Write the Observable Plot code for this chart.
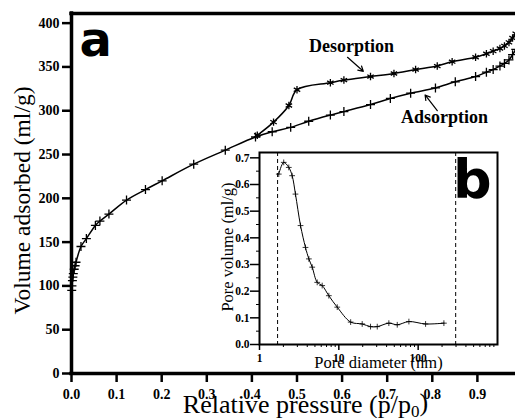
<!DOCTYPE html>
<html><head><meta charset="utf-8">
<script src="https://cdn.jsdelivr.net/npm/d3@7"></script>
<script src="https://cdn.jsdelivr.net/npm/@observablehq/plot@0.6"></script>
<style>
html,body{margin:0;padding:0;background:#fff;}
#wrap{position:relative;width:515px;height:418px;overflow:hidden;background:#fff;}
#inset{position:absolute;left:200px;top:140px;}
</style></head><body><div id="wrap"><div id="main"></div><div id="inset"></div></div>
<script>
// Adsorption branch (relative pressure, volume ml/g)
const adsP = [0.0005, 0.001, 0.002, 0.003, 0.004, 0.006, 0.008, 0.010, 0.021, 0.033, 0.053, 0.063, 0.083, 0.122, 0.164, 0.201, 0.271, 0.341, 0.408, 0.445, 0.486, 0.526, 0.574, 0.604, 0.663, 0.707, 0.752, 0.807, 0.851, 0.896, 0.920, 0.935, 0.950, 0.960, 0.970, 0.978, 0.985];
const adsV = [95, 100, 106, 110, 114, 119, 123, 127, 145, 154, 169, 174, 182, 198, 210, 220, 239, 255, 270, 276, 281, 288, 295, 299, 307, 314, 320, 326, 333, 339, 344, 347, 351, 354, 358, 364, 370];
// Desorption branch
const desP = [0.412, 0.448, 0.482, 0.500, 0.574, 0.604, 0.663, 0.715, 0.763, 0.811, 0.844, 0.896, 0.920, 0.935, 0.950, 0.960, 0.970, 0.978, 0.985];
const desV = [272, 287, 306, 324, 332, 335, 339, 342.5, 347, 351, 356, 361, 365, 368, 371, 374, 378, 383, 388];
// Inset: pore size distribution
const poreD = [1.75, 2.02, 2.34, 2.58, 2.84, 3.29, 3.80, 4.19, 4.62, 5.34, 6.17, 7.48, 9.55, 14.1, 19.7, 25.1, 30.5, 42.7, 54.5, 76.4, 124, 211];
const poreV = [0.639, 0.683, 0.664, 0.633, 0.564, 0.446, 0.364, 0.321, 0.290, 0.233, 0.221, 0.183, 0.140, 0.084, 0.077, 0.067, 0.067, 0.080, 0.074, 0.086, 0.077, 0.080];
const dashedD = [1.69, 297];
// Ticks
const xTicks = [0, 0.1, 0.2, 0.3, 0.4, 0.5, 0.6, 0.7, 0.8, 0.9];
const yTicks = [0, 50, 100, 150, 200, 250, 300, 350, 400];
const insetXTicks = [1, 10, 100];
const insetXMinor = [2,3,4,5,6,7,8,9,20,30,40,50,60,70,80,90,200,300,400,500,600,700,800,900];
const insetYTicks = [0, 0.1, 0.2, 0.3, 0.4, 0.5, 0.6, 0.7];
const insetYMinor = [0.05, 0.15, 0.25, 0.35, 0.45, 0.55, 0.65];
// Annotations (data coordinates)
const annoText = [{x: 0.621, y: 367, t: "Desorption"}, {x: 0.827, y: 286.5, t: "Adsorption"}];
const annoArrow = [{x1: 0.612, y1: 361, x2: 0.647, y2: 345}, {x1: 0.811, y1: 300, x2: 0.784, y2: 318}];
const panelA = [{x: 0.018, y: 363, t: "a"}];
const panelB = [{x: 275, y: 0.551, t: "b"}];

const ads = adsP.map((p, i) => ({p, v: adsV[i]}));
const des = desP.map((p, i) => ({p, v: desV[i]}));
const pore = poreD.map((d, i) => ({d, v: poreV[i]}));
const serif = "'Liberation Serif', 'Times New Roman', serif";

const main = Plot.plot({
  width: 515, height: 418,
  marginLeft: 71, marginRight: 0, marginTop: 13, marginBottom: 45,
  style: {fontFamily: serif, fontSize: "14px", fontWeight: "bold", color: "#000", background: "#fff"},
  x: {domain: [0, 0.9845]},
  y: {domain: [0, 411]},
  marks: [
    Plot.axisX({ticks: xTicks, tickFormat: d3.format(".1f"), tickSize: 9, tickPadding: 7, strokeWidth: 2.5, label: null}),
    Plot.axisY({ticks: yTicks, tickSize: 9, tickPadding: 3, strokeWidth: 2.5, label: null}),
    Plot.ruleY([0], {strokeWidth: 3.5, strokeLinecap: "square"}),
    Plot.ruleX([0], {strokeWidth: 3.5, strokeLinecap: "square"}),
    Plot.ruleY([411], {strokeWidth: 3.5, strokeLinecap: "square"}),
    Plot.line(ads, {x: "p", y: "v", curve: "catmull-rom", strokeWidth: 1.5}),
    Plot.dot(ads, {x: "p", y: "v", symbol: "plus", r: 3, strokeWidth: 1.3}),
    Plot.line(des, {x: "p", y: "v", curve: "catmull-rom", strokeWidth: 1.5}),
    Plot.dot(des, {x: "p", y: "v", symbol: "asterisk", r: 3.5, strokeWidth: 1.3}),
    Plot.arrow(annoArrow, {x1: "x1", y1: "y1", x2: "x2", y2: "y2", headLength: 7, strokeWidth: 1.2}),
    Plot.text(annoText, {x: "x", y: "y", text: "t", fontSize: 18, fontWeight: "bold", lineAnchor: "bottom", textAnchor: "middle"}),
    Plot.text(panelA, {x: "x", y: "y", text: "t", fontSize: 48, fontWeight: "bold", fontFamily: "'DejaVu Sans', sans-serif", lineAnchor: "bottom", textAnchor: "start"}),
    Plot.text(["Volume adsorbed (ml/g)"], {frameAnchor: "left", textAnchor: "middle", rotate: -90, dx: -49, dy: 7, fontSize: 23.5, fontWeight: "normal", lineAnchor: "middle"}),
    Plot.text(["Relative pressure (p/p0)"], {frameAnchor: "bottom", textAnchor: "middle", dx: 12, dy: 31.5, fontSize: 26, fontWeight: "normal", lineAnchor: "middle"})
  ]
});
d3.select(main).selectAll("text").filter(function() { return this.textContent === "Relative pressure (p/p0)"; })
  .each(function() {
    const t = d3.select(this);
    t.text("Relative pressure (p/p");
    t.append("tspan").attr("dy", "0.22em").attr("font-size", "17").text("0");
    t.append("tspan").attr("dy", "-0.22em").text(")");
  });
document.getElementById("main").appendChild(main);

const inset = Plot.plot({
  width: 305, height: 235,
  marginLeft: 59, marginRight: 8, marginTop: 12, marginBottom: 31,
  style: {fontFamily: serif, fontSize: "11.5px", fontWeight: "bold", color: "#000", background: "transparent"},
  x: {type: "log", domain: [1, 1000]},
  y: {domain: [0, 0.72]},
  marks: [
    Plot.axisX({ticks: insetXTicks, tickFormat: d3.format("d"), tickSize: 6, tickPadding: 3, strokeWidth: 1.5, label: null}),
    Plot.axisX({ticks: insetXMinor, tickSize: 3, fill: "none", label: null}),
    Plot.axisY({ticks: insetYTicks, tickFormat: d3.format(".1f"), tickSize: 9, tickPadding: 1, strokeWidth: 1.5, label: null}),
    Plot.axisY({ticks: insetYMinor, tickSize: 3, fill: "none", label: null}),
    Plot.frame({strokeWidth: 2}),
    Plot.ruleX(dashedD, {strokeDasharray: "4,3", strokeWidth: 1}),
    Plot.line(pore, {x: "d", y: "v", curve: "catmull-rom", strokeWidth: 1}),
    Plot.dot(pore, {x: "d", y: "v", symbol: "plus", r: 2, strokeWidth: 0.8}),
    Plot.text(panelB, {x: "x", y: "y", text: "t", fontSize: 54, fontWeight: "bold", fontFamily: "'DejaVu Sans', sans-serif", lineAnchor: "bottom", textAnchor: "start"}),
    Plot.text(["Pore diameter (nm)"], {frameAnchor: "bottom", textAnchor: "middle", dy: 18.7, fontSize: 16.5, fontWeight: "normal", lineAnchor: "middle"}),
    Plot.text(["Pore volume (ml/g)"], {frameAnchor: "left", textAnchor: "middle", rotate: -90, dx: -31.3, dy: -1.5, fontSize: 16.5, fontWeight: "normal", lineAnchor: "middle"})
  ]
});
document.getElementById("inset").appendChild(inset);
</script></body></html>
